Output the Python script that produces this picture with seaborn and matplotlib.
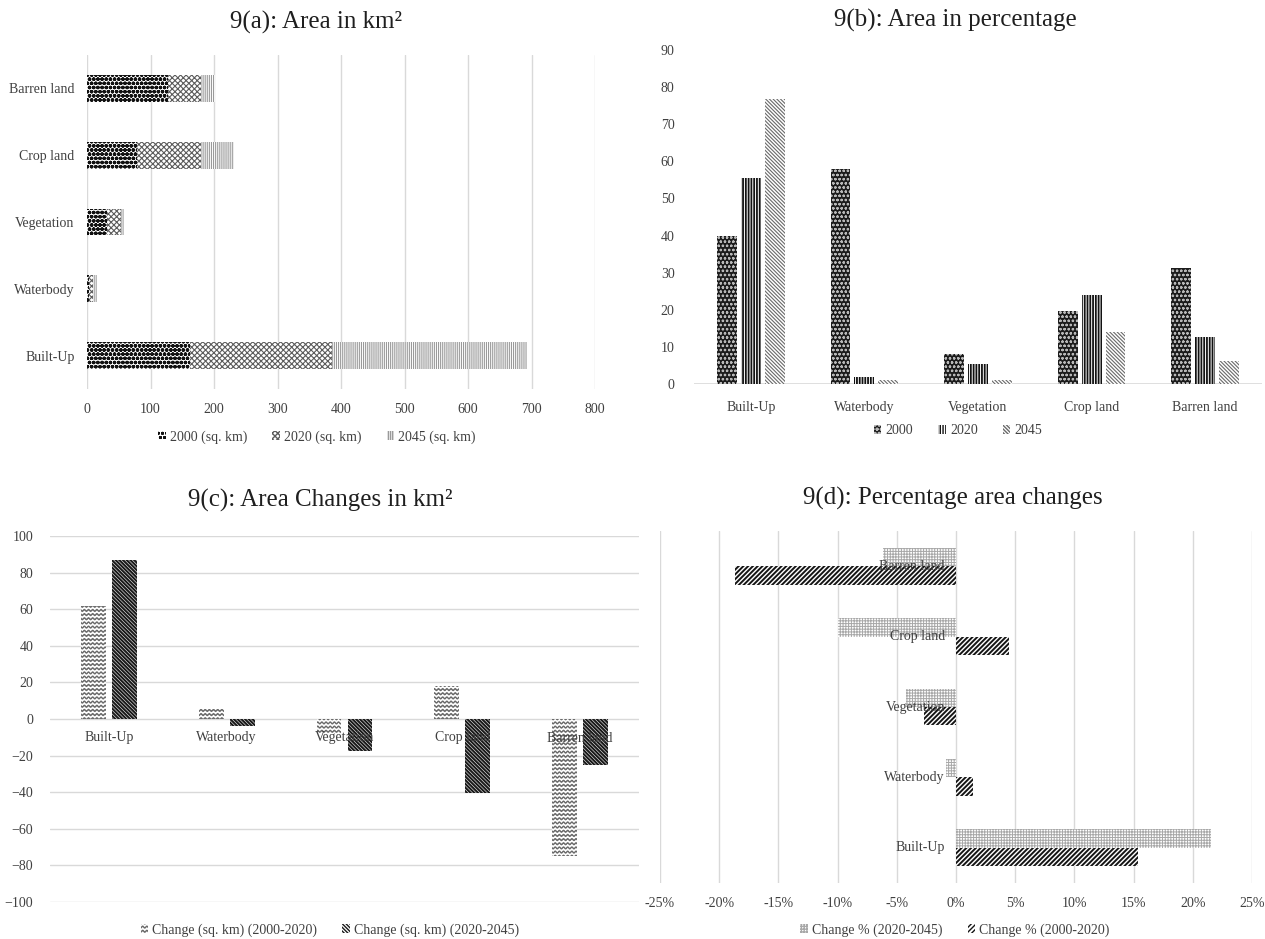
import warnings
import numpy as np
import pandas as pd
import matplotlib
matplotlib.use("Agg")
import matplotlib.pyplot as plt
from matplotlib import hatch as mhatch
from matplotlib.path import Path
from matplotlib.patches import Patch
from matplotlib.ticker import FuncFormatter
import seaborn as sns

warnings.filterwarnings("ignore", category=matplotlib.MatplotlibDeprecationWarning)

# ---------------------------------------------------------------- data
classes = ["Built-Up", "Waterbody", "Vegetation", "Crop land", "Barren land"]

# 9(a) area in km² (stacked)
area_2000 = [162, 3, 31, 79, 128]
area_2020 = [224, 7, 23, 100, 51]
area_2045 = [307, 5, 5, 53, 23]

# 9(b) area in percentage
pct_2000 = [40.0, 58.0, 8.1, 19.6, 31.2]
pct_2020 = [55.6, 1.8, 5.4, 24.1, 12.6]
pct_2045 = [76.9, 1.0, 1.1, 14.0, 6.3]

# 9(c) area change in km²
chg_km_2000_2020 = [62, 5.5, -7.6, 18.3, -75.0]
chg_km_2020_2045 = [87, -3.6, -17.3, -40.4, -25.3]

# 9(d) percentage area change
chg_pct_2020_2045 = [21.5, -0.84, -4.2, -10.0, -6.2]
chg_pct_2000_2020 = [15.4, 1.4, -2.7, 4.5, -18.7]


# ---------------------------------------------------------------- wavy hatch
class WaveHatch(mhatch.HatchPatternBase):
    """Horizontal wavy lines, selected with the 'w' hatch character."""

    def __init__(self, hatch, density):
        self.num_rows = int(hatch.count("w") * density)
        self.periods = self.num_rows
        self.pts = self.periods * 8 + 1
        self.num_vertices = self.num_rows * self.pts if self.num_rows else 0

    def set_vertices_and_codes(self, vertices, codes):
        xs = np.linspace(0.0, 1.0, self.pts)
        amp = 0.22 / self.num_rows
        wave = amp * np.sin(2 * np.pi * self.periods * xs)
        for i in range(self.num_rows):
            y = (i + 0.5) / self.num_rows
            sl = slice(i * self.pts, (i + 1) * self.pts)
            vertices[sl, 0] = xs
            vertices[sl, 1] = y + wave
            codes[sl] = Path.LINETO
            codes[i * self.pts] = Path.MOVETO


mhatch._hatch_types.append(WaveHatch)

# ---------------------------------------------------------------- style
sns.set_style("white")
plt.rcParams["font.family"] = ["Liberation Serif", "DejaVu Serif"]
plt.rcParams["hatch.linewidth"] = 1.0
TICK = "#404040"
TITLE = "#1f1f1f"
GRID = "#d9d9d9"
FS = 10

W, H = 1265, 939
fig = plt.figure(figsize=(W / 100, H / 100), dpi=100)


def rect(l, t, r, b):
    return [l / W, 1 - b / H, (r - l) / W, (b - t) / H]


def paint(patches, face, edge, hatch, lw):
    for p in patches:
        p.set_facecolor(face)
        p.set_edgecolor(edge)
        p.set_hatch(hatch)
        p.set_linewidth(0)
        if hasattr(p, "set_hatch_linewidth"):
            p.set_hatch_linewidth(lw)


def handle(label, face, edge, hatch, lw):
    h = Patch(facecolor=face, edgecolor=edge, hatch=hatch, linewidth=0, label=label)
    if hasattr(h, "set_hatch_linewidth"):
        h.set_hatch_linewidth(lw)
    return h


def clean(ax):
    for s in ax.spines.values():
        s.set_visible(False)
    ax.set_xlabel("")
    ax.set_ylabel("")
    ax.tick_params(length=0, labelsize=FS, colors=TICK)


def legend(ax, handles, x, y, ncol):
    fig.legend(handles=handles, loc="center", bbox_to_anchor=(x / W, 1 - y / H),
               ncol=ncol, frameon=False, fontsize=FS, labelcolor=TICK,
               handlelength=0.55, handleheight=0.55, handletextpad=0.3,
               columnspacing=1.8)


# ---------------------------------------------------------------- 9(a)
axA = fig.add_axes(rect(87, 55, 595, 389))
orderA = classes[::-1]
a00, a20, a45 = map(np.array, (area_2000, area_2020, area_2045))
styleA = [
    ("2000 (sq. km)", "white", "#111111", "oooo", 1.3),
    ("2020 (sq. km)", "white", "#5c5c5c", "xxxxxx", 0.8),
    ("2045 (sq. km)", "white", "#9a9a9a", "||||||||", 0.8),
]
stack = [a00 + a20 + a45, a00 + a20, a00]
for vals, st in zip(stack, styleA[::-1]):
    dfa = pd.DataFrame({"Class": classes, "Area": vals})
    sns.barplot(data=dfa, y="Class", x="Area", order=orderA, orient="h",
                width=0.4, errorbar=None, ax=axA)
    paint(axA.containers[-1], *st[1:])
axA.set_xlim(0, 800)
axA.set_xticks(range(0, 801, 100))
axA.set_ylim(4.5, -0.5)
axA.xaxis.grid(True, color=GRID, lw=1.0)
axA.set_axisbelow(True)
clean(axA)
axA.tick_params(axis="x", pad=10)
axA.tick_params(axis="y", pad=9)
legend(axA, [handle(*s) for s in styleA], 317, 437, 3)
fig.text(316 / W, 1 - 22 / H, "9(a): Area in km²", ha="center", va="center",
         fontsize=18, color=TITLE)

# ---------------------------------------------------------------- 9(b)
axB = fig.add_axes(rect(694, 50, 1262, 384))
years = ["2000", "2020", "2045"]
dfB = pd.DataFrame({"Class": classes * 3,
                    "Year": np.repeat(years, 5),
                    "Pct": pct_2000 + pct_2020 + pct_2045})
sns.barplot(data=dfB, x="Class", y="Pct", hue="Year", order=classes,
            hue_order=years, width=0.63, gap=0.17, errorbar=None,
            legend=False, ax=axB)
styleB = [
    ("2000", "#1c1c1c", "#b8b8b8", "oooo", 0.6),
    ("2020", "white", "#111111", "||||||", 1.3),
    ("2045", "white", "#6a6a6a", "\\" * 9, 0.8),
]
for cont, st in zip(axB.containers, styleB):
    paint(cont, *st[1:])
axB.set_ylim(0, 90)
axB.set_yticks(range(0, 91, 10))
axB.set_xlim(-0.5, 4.5)
axB.axhline(0, color=GRID, lw=1.2, zorder=0)
clean(axB)
axB.tick_params(axis="x", pad=12)
axB.tick_params(axis="y", pad=14)
legend(axB, [handle(*s) for s in styleB], 958, 431, 3)
fig.text(955 / W, 1 - 20 / H, "9(b): Area in percentage", ha="center",
         va="center", fontsize=18, color=TITLE)

# ---------------------------------------------------------------- 9(c)
axC = fig.add_axes(rect(50, 536, 639, 902))
periodsC = ["Change (sq. km) (2000-2020)", "Change (sq. km) (2020-2045)"]
dfC = pd.DataFrame({"Class": classes * 2,
                    "Period": np.repeat(periodsC, 5),
                    "Change": chg_km_2000_2020 + chg_km_2020_2045})
sns.barplot(data=dfC, x="Class", y="Change", hue="Period", order=classes,
            hue_order=periodsC, width=0.525, gap=0.2, errorbar=None,
            legend=False, ax=axC)
styleC = [
    (periodsC[0], "white", "#6a6a6a", "wwww", 1.0),
    (periodsC[1], "white", "#1a1a1a", "\\" * 9, 1.5),
]
for cont, st in zip(axC.containers, styleC):
    paint(cont, *st[1:])
axC.set_ylim(-100, 100)
axC.set_yticks(range(-100, 101, 20))
axC.set_xlim(-0.5, 4.5)
axC.yaxis.grid(True, color=GRID, lw=1.0)
axC.set_axisbelow(True)
clean(axC)
axC.set_xticks([])
axC.tick_params(axis="y", pad=12)
for i, name in enumerate(classes):
    axC.annotate(name, (i, 0), xytext=(0, -9), textcoords="offset points",
                 ha="center", va="top", fontsize=FS, color=TICK)
legend(axC, [handle(*s) for s in styleC], 330, 930, 2)
fig.text(320 / W, 1 - 500 / H, "9(c): Area Changes in km²", ha="center",
         va="center", fontsize=18, color=TITLE)

# ---------------------------------------------------------------- 9(d)
axD = fig.add_axes(rect(660, 531, 1252, 883))
periodsD = ["Change % (2020-2045)", "Change % (2000-2020)"]
dfD = pd.DataFrame({"Class": classes * 2,
                    "Period": np.repeat(periodsD, 5),
                    "Change": chg_pct_2020_2045 + chg_pct_2000_2020})
orderD = classes[::-1]
sns.barplot(data=dfD, y="Class", x="Change", hue="Period", order=orderD,
            hue_order=periodsD, orient="h", width=0.525, errorbar=None,
            legend=False, ax=axD)
styleD = [
    (periodsD[0], "white", "#a8a8a8", "++++++", 0.7),
    (periodsD[1], "white", "#151515", "///////", 1.4),
]
for cont, st in zip(axD.containers, styleD):
    paint(cont, *st[1:])
axD.set_xlim(-25, 25)
axD.set_xticks(range(-25, 26, 5))
axD.xaxis.set_major_formatter(FuncFormatter(lambda v, _: f"{v:.0f}%"))
axD.set_ylim(4.5, -0.5)
axD.xaxis.grid(True, color=GRID, lw=1.0)
axD.set_axisbelow(True)
clean(axD)
axD.set_yticks([])
axD.tick_params(axis="x", pad=10)
for i, name in enumerate(orderD):
    axD.annotate(name, (0, i), xytext=(-8, 0), textcoords="offset points",
                 ha="right", va="center", fontsize=FS, color=TICK, zorder=5)
legend(axD, [handle(*s) for s in styleD], 955, 930, 2)
fig.text(953 / W, 1 - 498 / H, "9(d): Percentage area changes", ha="center",
         va="center", fontsize=18, color=TITLE)

fig.savefig("out.png", dpi=100, facecolor="white")
